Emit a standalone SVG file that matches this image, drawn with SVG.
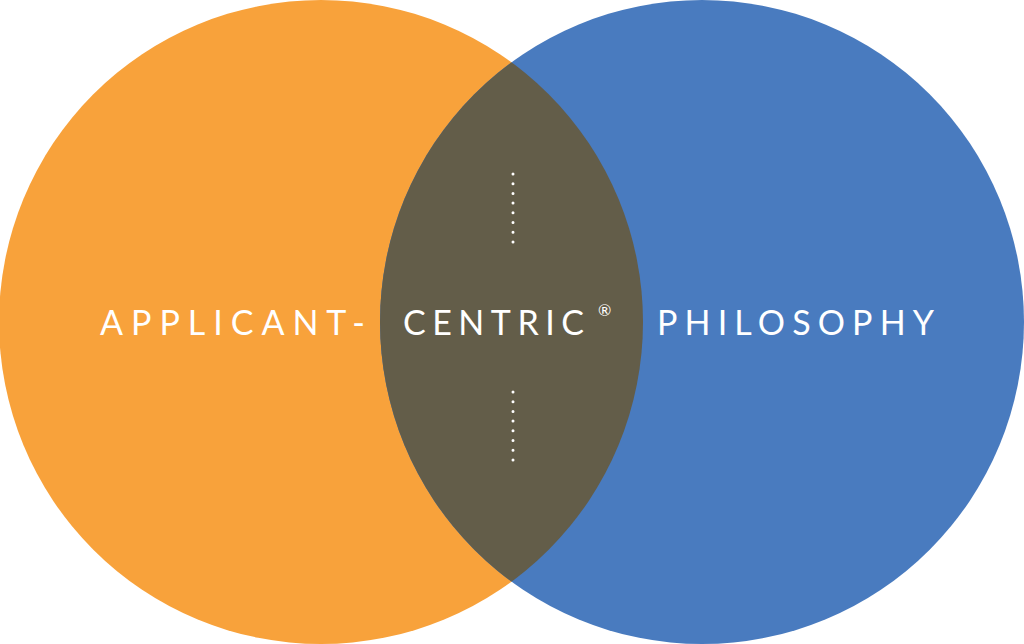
<svg xmlns="http://www.w3.org/2000/svg" width="1024" height="644" viewBox="0 0 1024 644">
<style>
.t{font-family:Lato,"Open Sans",sans-serif;font-size:34px;fill:#fff;letter-spacing:7px}
.d{stroke:#fff;stroke-width:3;stroke-linecap:round;stroke-dasharray:0 9.7;fill:none}
</style>
<defs><clipPath id="c"><circle cx="321" cy="322" r="322"/></clipPath></defs>
<g id="left"><circle cx="321" cy="322" r="322" fill="#F8A23B"/></g>
<g id="right"><circle cx="702" cy="322" r="322" fill="#497BBF"/></g>
<g id="overlap"><circle cx="702" cy="322" r="322" fill="#635D49" clip-path="url(#c)"/></g>
<g id="connectors">
<path class="d" d="M513 174V250M513 392V468"/>
</g>
<g id="labels">
<text class="t" x="100" y="335" textLength="272">APPLICANT-</text>
<text class="t" x="403" y="335" textLength="188">CENTRIC</text>
<text x="598" y="316" font-family="Lato,sans-serif" font-size="16" fill="#fff">®</text>
<text class="t" x="657" y="335" textLength="284">PHILOSOPHY</text>
</g>
</svg>
